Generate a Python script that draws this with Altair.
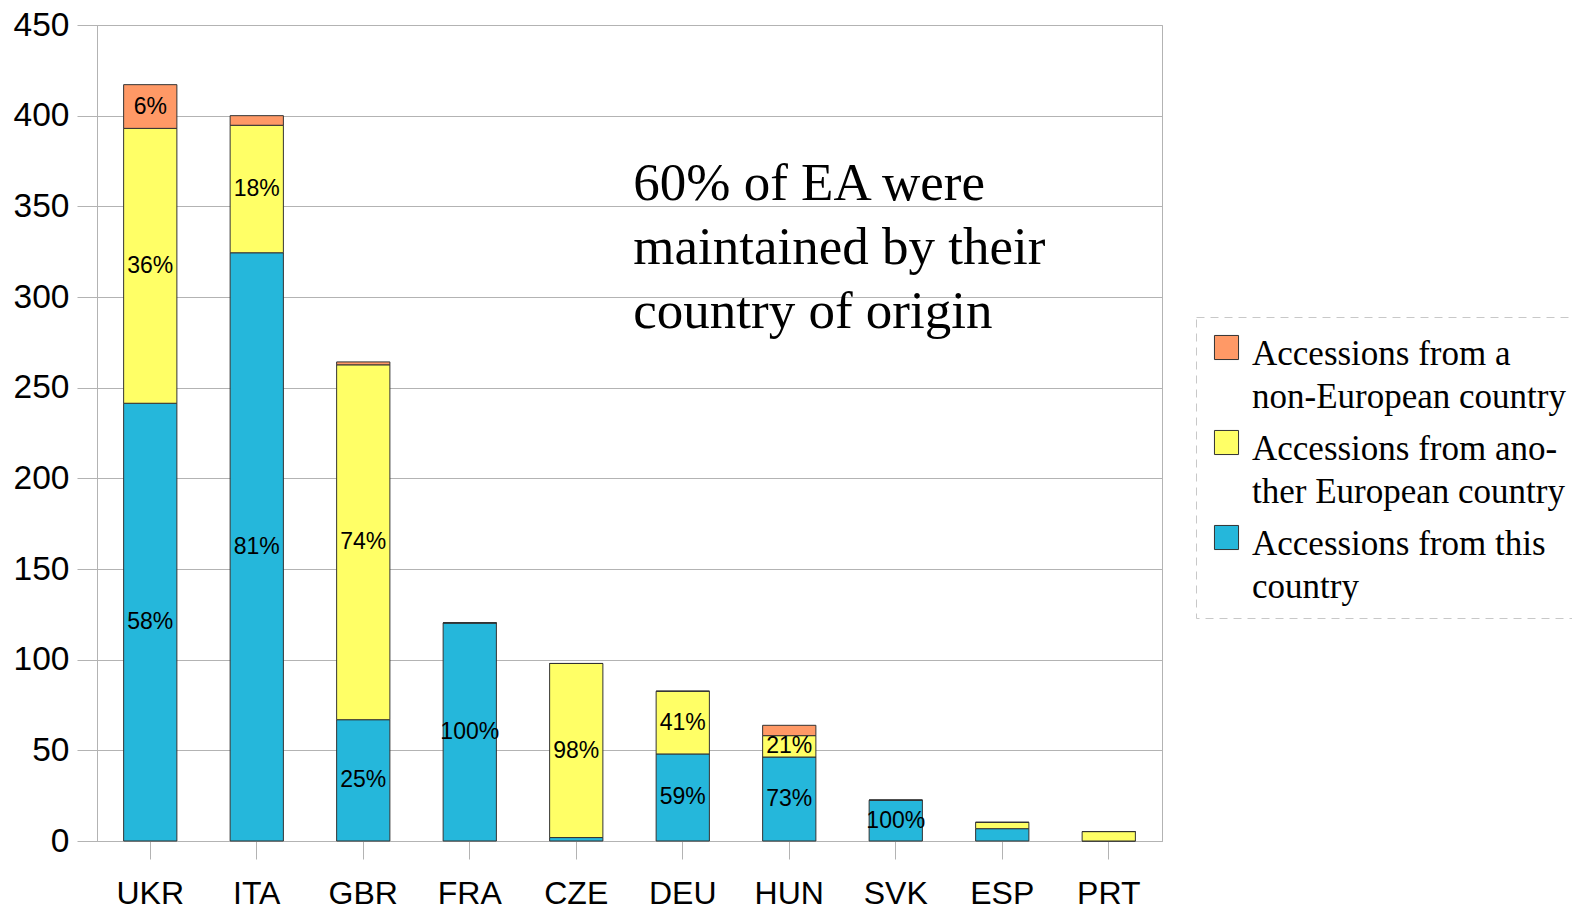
import altair as alt
import pandas as pd

countries = ["UKR", "ITA", "GBR", "FRA", "CZE", "DEU", "HUN", "SVK", "ESP", "PRT"]
this_country = [241.4, 324.4, 66.9, 120.3, 1.9, 48.0, 46.3, 22.5, 6.8, 0.0]
other_european = [151.6, 70.3, 195.7, 0.0, 96.0, 34.6, 11.8, 0.0, 3.5, 5.2]
non_european = [24.1, 5.3, 1.6, 0.0, 0.0, 0.0, 5.7, 0.0, 0.0, 0.0]

this_labels = ["58%", "81%", "25%", "100%", "", "59%", "73%", "100%", "", ""]
other_labels = ["36%", "18%", "74%", "", "98%", "41%", "21%", "", "", ""]
non_labels = ["6%", "", "", "", "", "", "", "", "", ""]

series_names = [
    "Accessions from a\nnon-European country",
    "Accessions from ano-\nther European country",
    "Accessions from this\ncountry",
]
series_colors = ["#ff9966", "#ffff66", "#25b7db"]

note_text = "60% of EA were\nmaintained by their\ncountry of origin"
note_country = "CZE"
note_value = 353.5

rows = []
for i, c in enumerate(countries):
    for order, (name, vals, labs) in enumerate([
        (series_names[2], this_country, this_labels),
        (series_names[1], other_european, other_labels),
        (series_names[0], non_european, non_labels),
    ]):
        rows.append({"country": c, "series": name, "value": vals[i],
                     "label": labs[i], "ord": order})
df = pd.DataFrame(rows)

LBL_DY = -11

xenc = alt.X("country:N", sort=countries, title=None,
             scale=alt.Scale(paddingInner=0.5, paddingOuter=0.25),
             axis=alt.Axis(labelAngle=0, labelFont="Liberation Sans", labelFontSize=32,
                           labelColor="black", labelPadding=30, tickSize=18,
                           tickColor="#b3b3b3", domainColor="#b3b3b3", grid=False))

base = alt.Chart(df).transform_stack(
    stack="value", groupby=["country"], as_=["y0", "y1"],
    sort=[alt.SortField("ord", order="ascending")]
)

bars = base.mark_bar(stroke="#333333", strokeWidth=1).encode(
    x=xenc,
    y=alt.Y("y0:Q", title=None,
            scale=alt.Scale(domain=[0, 450], nice=False),
            axis=alt.Axis(values=list(range(0, 451, 50)), labelFont="Liberation Sans",
                          labelFontSize=33.5, labelColor="black", labelPadding=8,
                          labelOffset=-LBL_DY,
                          tickSize=20, tickColor="#b3b3b3", domainColor="#b3b3b3",
                          gridColor="#b3b3b3")),
    y2="y1:Q",
    color=alt.Color("series:N",
                    scale=alt.Scale(domain=series_names, range=series_colors),
                    legend=alt.Legend(title=None, orient="none", legendX=1099, legendY=292,
                                      symbolType="square", symbolSize=580,
                                      symbolStrokeColor="#333333", symbolStrokeWidth=1,
                                      labelFont="Liberation Serif", labelFontSize=35,
                                      labelColor="black", labelOffset=8, labelLimit=600,
                                      labelBaseline="top",
                                      labelExpr="split(datum.label, '\\n')",
                                      rowPadding=10, padding=13,
                                      strokeColor="#c8c8c8")),
)

texts = base.transform_filter(alt.datum.label != "").transform_calculate(
    mid="(datum.y0 + datum.y1) / 2"
).mark_text(font="Liberation Sans", fontSize=23, color="black", baseline="middle").encode(
    x=alt.X("country:N", sort=countries),
    y=alt.Y("mid:Q"),
    text="label:N",
)

note_df = pd.DataFrame({"country": [note_country], "v": [note_value], "t": [note_text]})
note = alt.Chart(note_df).mark_text(
    font="Liberation Serif", fontSize=53, align="left", baseline="alphabetic",
    lineBreak="\n", lineHeight=64, dx=57, color="black"
).encode(
    x=alt.X("country:N", sort=countries),
    y=alt.Y("v:Q"),
    text="t:N",
)

chart = alt.layer(bars, texts, note).properties(
    width=1065, height=816,
    autosize=alt.AutoSizeParams(type="none"),
    padding={"left": 89, "top": 17, "right": 410, "bottom": 68},
).configure(
    style={"guide-label": {"lineHeight": 43, "dy": LBL_DY}}
).configure_view(stroke="#b3b3b3").configure_legend(strokeDash=[8, 6])

chart.save("out.html", embed_options={"renderer": "svg", "actions": False})
